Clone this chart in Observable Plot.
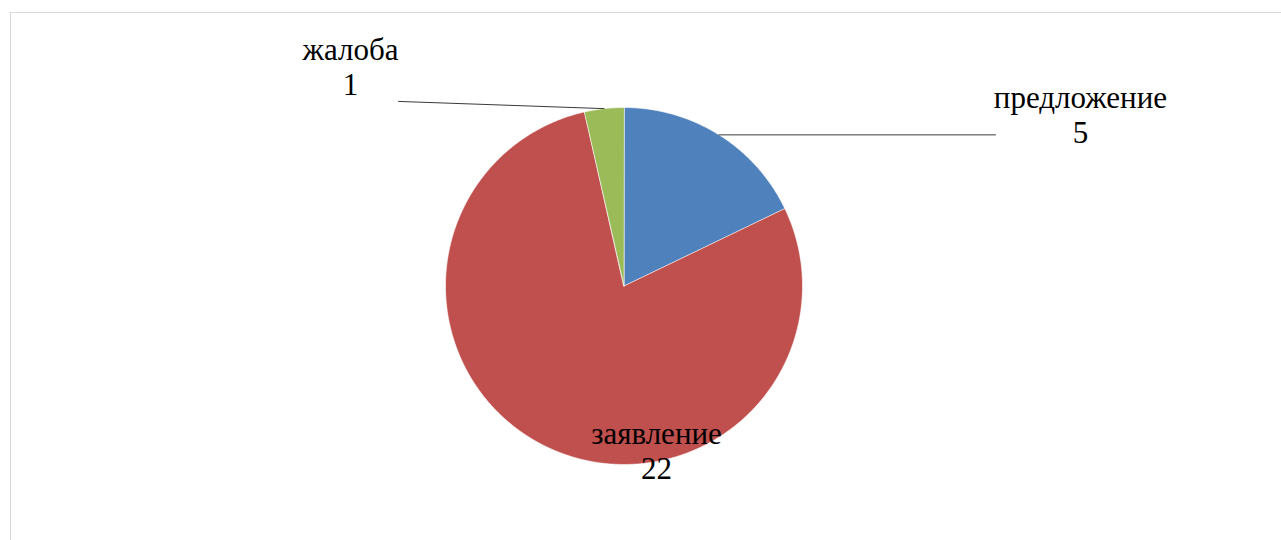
<!DOCTYPE html>
<html>
<head>
<meta charset="utf-8">
<script src="https://cdn.jsdelivr.net/npm/d3@7"></script>
<script src="https://cdn.jsdelivr.net/npm/@observablehq/plot@0.6"></script>
<style>
  html, body { margin: 0; padding: 0; background: #fff; overflow: hidden; }
  #wrap { position: relative; width: 1281px; height: 540px; }
  #frame { position: absolute; left: 10px; top: 12px; width: 1400px; height: 700px;
           border-left: 1.5px solid #d9d9d9; border-top: 1.5px solid #d9d9d9; }
  #chart { position: absolute; left: 0; top: 0; }
</style>
</head>
<body>
<div id="wrap"><div id="frame"></div><div id="chart"></div></div>
<script>
// Data
const categories = ["предложение", "заявление", "жалоба"];
const values = [5, 22, 1];
const colors = ["#4F81BD", "#C0504D", "#9BBB59"];

// Layout (pie in radius units; y grows downward)
const cx = 623.5, cy = 285.5, r = 178.5;
const labelPos = {
  "предложение": {x: 2.557, y: -0.963, leaderEnd: {x: 2.081, horizontal: true}},
  "заявление":   {x: 0.182, y: 0.918, leaderEnd: null},
  "жалоба":      {x: -1.532, y: -1.230, leaderEnd: {x: -1.263, y: -1.034}}
};

const pie = d3.pie().sort(null).value(d => d.value);
const arcs = pie(categories.map((c, i) => ({category: c, value: values[i]})));

// slice outlines
const slicePts = [];
for (const a of arcs) {
  const c = a.data.category;
  slicePts.push({category: c, x: 0, y: 0});
  const n = Math.max(2, Math.ceil((a.endAngle - a.startAngle) / (Math.PI / 360)));
  for (let k = 0; k <= n; k++) {
    const t = a.startAngle + (a.endAngle - a.startAngle) * k / n;
    slicePts.push({category: c, x: Math.sin(t), y: -Math.cos(t)});
  }
}

// leaders and labels
const leaders = [];
const labels = [];
for (const a of arcs) {
  const c = a.data.category;
  const mid = (a.startAngle + a.endAngle) / 2;
  const sx = Math.sin(mid), sy = -Math.cos(mid);
  const lp = labelPos[c];
  if (lp.leaderEnd) {
    const ey = lp.leaderEnd.horizontal ? sy : lp.leaderEnd.y;
    leaders.push({category: c, x: sx, y: sy});
    leaders.push({category: c, x: lp.leaderEnd.x, y: ey});
  }
  labels.push({x: lp.x, y: lp.y, text: c + "\n" + a.data.value});
}

const chart = Plot.plot({
  width: 1281,
  height: 540,
  margin: 0,
  x: {domain: [-1, 1], range: [cx - r, cx + r], axis: null},
  y: {domain: [-1, 1], range: [cy - r, cy + r], axis: null},
  color: {domain: categories, range: colors},
  marks: [
    Plot.line(slicePts, {x: "x", y: "y", z: "category", fill: "category",
      stroke: "white", strokeWidth: 0.6, curve: "linear-closed"}),
    Plot.line(leaders, {x: "x", y: "y", z: "category", stroke: "#3a3a3a", strokeWidth: 1}),
    Plot.text(labels, {x: "x", y: "y", text: "text", fill: "#000",
      fontFamily: "Liberation Serif", fontSize: 31, lineHeight: 1.13,
      textAnchor: "middle", lineAnchor: "middle"})
  ]
});
document.getElementById("chart").appendChild(chart);
</script>
</body>
</html>
